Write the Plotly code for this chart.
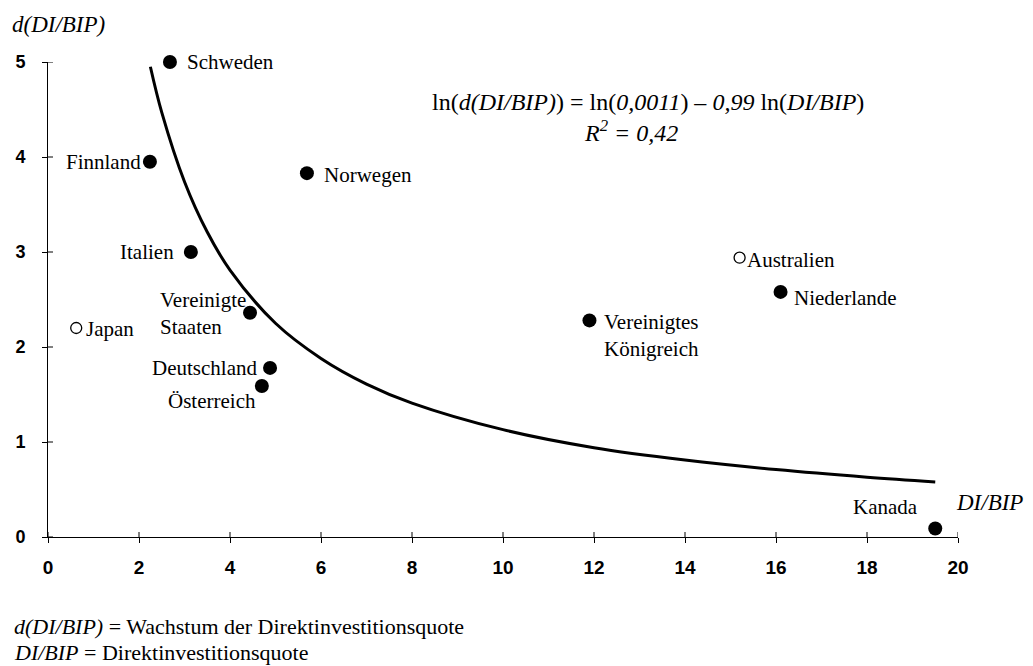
import plotly.graph_objects as go

# Country observations: DI/BIP (x) vs. d(DI/BIP) (y)
countries = ["Schweden", "Finnland", "Norwegen", "Italien", "Vereinigte<br>Staaten",
             "Deutschland", "Österreich", "Vereinigtes<br>Königreich", "Niederlande", "Kanada"]
di_bip = [2.68, 2.24, 5.69, 3.14, 4.44, 4.88, 4.70, 11.9, 16.1, 19.5]
d_di_bip = [5.00, 3.95, 3.83, 3.00, 2.36, 1.78, 1.59, 2.28, 2.58, 0.09]

# Open circles (excluded from fit)
open_countries = ["Japan", "Australien"]
open_di_bip = [0.62, 15.2]
open_d_di_bip = [2.20, 2.94]

# Fitted curve
curve_x = [2.25, 2.5, 3.0, 3.5, 4.0, 5.0, 6.0, 7.0, 8.0, 10.0, 12.0, 14.0, 16.0, 18.0, 19.5]
curve_y = [4.95, 4.47, 3.74, 3.21, 2.81, 2.25, 1.88, 1.61, 1.41, 1.13, 0.94, 0.81, 0.71, 0.63, 0.58]

x_ticks = [0, 2, 4, 6, 8, 10, 12, 14, 16, 18, 20]
y_ticks = [0, 1, 2, 3, 4, 5]

# label placement: (xanchor, xshift, yshift, yanchor)
placement = {
    "Schweden": ("left", 15, 0, "middle"),
    "Finnland": ("right", -7, 0, "middle"),
    "Norwegen": ("left", 15, -2, "middle"),
    "Italien": ("right", -15, 0, "middle"),
    "Vereinigte<br>Staaten": ("right", -2, -1, "middle"),
    "Deutschland": ("right", -11, 0, "middle"),
    "Österreich": ("right", -4, -15, "middle"),
    "Vereinigtes<br>Königreich": ("left", 13, 12, "top"),
    "Niederlande": ("left", 11, -6, "middle"),
    "Kanada": ("right", -15, 21, "middle"),
    "Japan": ("left", 8, -1, "middle"),
    "Australien": ("left", 5, -2, "middle"),
}

SERIF = "Liberation Serif"
SANS = "Liberation Sans"

fig = go.Figure()

fig.add_trace(go.Scatter(
    x=curve_x, y=curve_y, mode='lines', line=dict(color='black', width=3, shape='spline'),
    hoverinfo='none'
))

fig.add_trace(go.Scatter(
    x=di_bip, y=d_di_bip, mode='markers', cliponaxis=False,
    marker=dict(size=14, color='black'), hoverinfo='none'
))

fig.add_trace(go.Scatter(
    x=open_di_bip, y=open_d_di_bip, mode='markers', cliponaxis=False,
    marker=dict(size=11, color='white', line=dict(color='black', width=1.3)), hoverinfo='none'
))

annotations = []
for name, x, y in zip(countries + open_countries, di_bip + open_di_bip, d_di_bip + open_d_di_bip):
    xa, xs, ys, ya = placement[name]
    annotations.append(dict(
        x=x, y=y, xref='x', yref='y', text=name, showarrow=False,
        xanchor=xa, yanchor=ya, xshift=xs, yshift=ys, align='left',
        font=dict(family=SERIF, size=21, color='black')
    ))

# equation, axis titles and footnotes
annotations += [
    dict(x=0.659, y=0.916, xref='paper', yref='paper', showarrow=False,
         xanchor='center', yanchor='middle',
         text="ln(<i>d(DI/BIP)</i>) = ln(<i>0,0011</i>) – <i>0,99</i> ln(<i>DI/BIP</i>)",
         font=dict(family=SERIF, size=24, color='black')),
    dict(x=0.641, y=0.855, xref='paper', yref='paper', showarrow=False,
         xanchor='center', yanchor='middle',
         text="<i>R<sup>2</sup> = 0,42</i>",
         font=dict(family=SERIF, size=24, color='black')),
    dict(x=-0.042, y=1.078, xref='paper', yref='paper', showarrow=False,
         xanchor='left', yanchor='middle',
         text="<i>d(DI/BIP)</i>", font=dict(family=SERIF, size=23, color='black')),
    dict(x=1.0, y=0.072, xref='paper', yref='paper', showarrow=False,
         xanchor='right', xshift=67, yanchor='middle',
         text="<i>DI/BIP</i>", font=dict(family=SERIF, size=23, color='black')),
    dict(x=-0.04, y=-0.189, xref='paper', yref='paper', showarrow=False,
         xanchor='left', yanchor='middle',
         text="<i>d(DI/BIP)</i> = Wachstum der Direktinvestitionsquote",
         font=dict(family=SERIF, size=22, color='black')),
    dict(x=-0.04, y=-0.244, xref='paper', yref='paper', showarrow=False,
         xanchor='left', yanchor='middle',
         text="<i>DI/BIP</i> = Direktinvestitionsquote",
         font=dict(family=SERIF, size=22, color='black')),
]

# inner half of the cross ticks
shapes = []
for t in x_ticks:
    shapes.append(dict(type='line', xref='x', yref='y', ysizemode='pixel', yanchor=0,
                       x0=t, x1=t, y0=0, y1=5, line=dict(color='black', width=1)))
for t in y_ticks:
    shapes.append(dict(type='line', xref='x', yref='y', xsizemode='pixel', xanchor=0,
                       y0=t, y1=t, x0=0, x1=5, line=dict(color='black', width=1)))

axis_common = dict(
    showgrid=False, zeroline=False, showline=True, linecolor='black', linewidth=1,
    ticks='outside', ticklen=5, tickcolor='black', tickwidth=1, automargin=False,
)

# page body has an 8px margin, so the figure is sized to sit inside it
fig.update_layout(
    width=1017, height=658,
    margin=dict(l=40, r=67, t=54, b=129),
    plot_bgcolor='white', paper_bgcolor='white',
    showlegend=False,
    xaxis=dict(range=[0, 20], tickvals=x_ticks, ticklabelstandoff=8,
               tickfont=dict(family=SANS, size=19, color='black', weight='bold'),
               **axis_common),
    yaxis=dict(range=[0, 5], tickvals=y_ticks, ticklabelstandoff=13,
               tickfont=dict(family=SANS, size=18, color='black', weight='bold'),
               **axis_common),
    annotations=annotations,
    shapes=shapes,
)

fig.write_html("out.html")
